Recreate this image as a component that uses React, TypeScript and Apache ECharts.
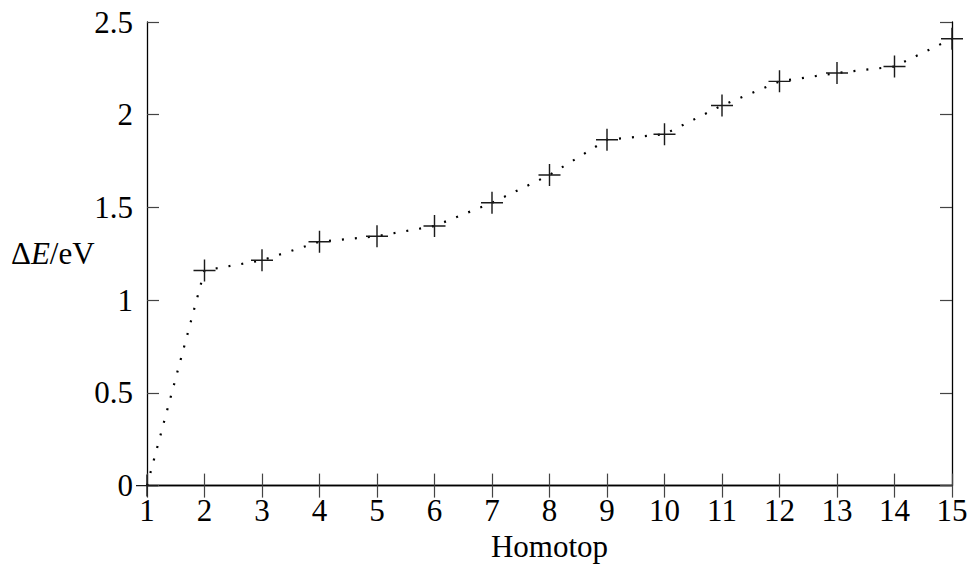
import React, { useEffect, useRef } from "react";
import * as echarts from "echarts";

const homotops = [1, 2, 3, 4, 5, 6, 7, 8, 9, 10, 11, 12, 13, 14, 15];
const deltaE = [0, 1.16, 1.215, 1.315, 1.345, 1.4, 1.525, 1.675, 1.865, 1.895, 2.05, 2.18, 2.225, 2.26, 2.41];
const xLabel = "Homotop";

const FONT = "'Liberation Serif', 'DejaVu Serif', serif";
const CROSS = "path://M9.35,0 H10.65 V9.35 H20 V10.65 H10.65 V20 H9.35 V10.65 H0 V9.35 H9.35 Z";

export default function App() {
  const ref = useRef<HTMLDivElement>(null);
  useEffect(() => {
    if (!ref.current) return;
    const chart = echarts.init(ref.current, null, { renderer: "svg" });
    const data = homotops.map((h, i) => [h, deltaE[i]]);
    const axisLine = { show: true, lineStyle: { color: "#000", width: 1.3 } };
    const axisTick = { show: true, inside: true, length: 12, lineStyle: { color: "#444", width: 1.2 } };
    chart.setOption({
      animation: false,
      backgroundColor: "#fff",
      grid: { left: 147, right: 22, top: 22, bottom: 79.5 },
      xAxis: [
        {
          type: "value",
          min: 1,
          max: 15,
          interval: 1,
          axisLine,
          axisTick,
          splitLine: { show: false },
          axisLabel: { color: "#000", fontFamily: FONT, fontSize: 31, margin: 9.5 },
          name: xLabel,
          nameLocation: "middle",
          nameGap: 43.5,
          nameTextStyle: { color: "#000", fontFamily: FONT, fontSize: 31 },
        },
        {
          type: "value",
          position: "top",
          min: 1,
          max: 15,
          interval: 1,
          axisLine,
          axisTick,
          splitLine: { show: false },
          axisLabel: { show: false },
        },
      ],
      yAxis: [
        {
          type: "value",
          min: 0,
          max: 2.5,
          interval: 0.5,
          axisLine,
          axisTick,
          splitLine: { show: false },
          axisLabel: { color: "#000", fontFamily: FONT, fontSize: 31, margin: 14 },
        },
        {
          type: "value",
          position: "right",
          min: 0,
          max: 2.5,
          interval: 0.5,
          axisLine,
          axisTick,
          splitLine: { show: false },
          axisLabel: { show: false },
        },
      ],
      graphic: [
        {
          type: "text",
          left: 11,
          top: 237.5,
          style: {
            text: "{n|Δ}{i|E}{n|/eV}",
            rich: {
              n: { fontFamily: FONT, fontSize: 31, fill: "#000" },
              i: { fontFamily: FONT, fontSize: 31, fontStyle: "italic", fill: "#000" },
            },
          },
        },
      ],
      series: [
        {
          type: "line",
          data,
          clip: false,
          symbol: "none",
          lineStyle: { color: "#000", width: 2.2, type: [2, 11], cap: "butt" },
          z: 3,
        },
        {
          type: "scatter",
          data,
          clip: false,
          symbol: CROSS,
          symbolSize: 22,
          itemStyle: { color: "#1a1a1a", opacity: 1 },
          z: 4,
        },
      ],
    });
    return () => chart.dispose();
  }, []);
  return <div ref={ref} style={{ position: "fixed", left: 0, top: 0, width: 974, height: 567 }} />;
}
